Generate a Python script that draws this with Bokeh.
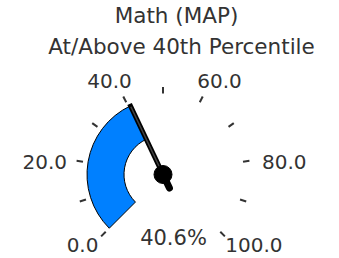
import math
from bokeh.plotting import figure
from bokeh.models import Range1d
from bokeh.embed import file_html
from bokeh.resources import INLINE
from bokeh.core.properties import value

# ---- data ----
title_lines = ["Math (MAP)", "At/Above 40th Percentile"]
gauge_min = 0
gauge_max = 100
score = 40.6
tick_values = [0, 10, 20, 30, 40, 50, 60, 70, 80, 90, 100]
label_values = [0, 20, 40, 60, 80, 100]
label_texts = ["0.0", "20.0", "40.0", "60.0", "80.0", "100.0"]

# ---- layout ----
W, H = 339, 258
CX, CY = 162.5, 84
START_DEG, SWEEP_DEG = 225.0, 270.0
R_IN, R_OUT = 39, 76
TICK_R0, TICK_R1 = 81, 87.5
LABEL_R = 100
FONT = value("DejaVu Sans")
TXT = "#333333"


def ang(v):
    frac = (v - gauge_min) / (gauge_max - gauge_min)
    return math.radians(START_DEG - frac * SWEEP_DEG)


def label_nudge(a):
    s = math.sin(a)
    if s > 0.5:
        return 4
    if abs(s) < 0.5:
        return -3
    return 0


p = figure(width=W, height=H, x_range=Range1d(0, W), y_range=Range1d(0, H),
           output_backend="svg", toolbar_location=None, min_border=0,
           outline_line_color=None)
p.axis.visible = False
p.grid.visible = False
p.background_fill_color = "white"
p.border_fill_color = "white"

# titles
p.text(x=[176, 181], y=[243, 212], text=title_lines, text_font=FONT,
       text_font_size="21.5px", text_color=TXT, text_align="center",
       text_baseline="middle")

# band
p.annular_wedge(x=CX, y=CY, inner_radius=R_IN, outer_radius=R_OUT,
                start_angle=ang(score), end_angle=ang(gauge_min),
                direction="anticlock", fill_color="#0080FF",
                line_color="black", line_width=1)

# ticks
ta = [ang(v) for v in tick_values]
p.segment(x0=[CX + TICK_R0 * math.cos(a) for a in ta],
          y0=[CY + TICK_R0 * math.sin(a) for a in ta],
          x1=[CX + TICK_R1 * math.cos(a) for a in ta],
          y1=[CY + TICK_R1 * math.sin(a) for a in ta],
          line_color=TXT, line_width=2)

# tick labels
la = [ang(v) for v in label_values]
lx = [CX + 1.5 + LABEL_R * math.cos(a) + len(t) * 5.3 * math.cos(a)
      for a, t in zip(la, label_texts)]
ly = [CY + LABEL_R * math.sin(a) + label_nudge(a) for a in la]
p.text(x=lx, y=ly, text=label_texts, text_font=FONT, text_font_size="20px",
       text_color=TXT, text_align="center", text_baseline="middle")

# needle
na = ang(score)
tip = (CX + 78 * math.cos(na), CY + 78 * math.sin(na))
tail = (CX - 15 * math.cos(na), CY - 15 * math.sin(na))
p.segment(x0=[CX], y0=[CY], x1=[tail[0]], y1=[tail[1]], line_color="black",
          line_width=7, line_cap="round")
p.segment(x0=[CX], y0=[CY], x1=[tip[0]], y1=[tip[1]], line_color="black",
          line_width=5)
p.segment(x0=[CX], y0=[CY], x1=[tip[0] - 3 * math.cos(na)],
          y1=[tip[1] - 3 * math.sin(na)], line_color="#444444", line_width=1.5)
p.circle(x=[CX], y=[CY], radius=9, fill_color="black", line_color="black")

# value label
p.text(x=[CX + 10.5], y=[CY - 63], text=[f"{score}%"], text_font=FONT,
       text_font_size="21px", text_color=TXT, text_align="center",
       text_baseline="middle")

open("out.html", "w").write(file_html(p, INLINE))
